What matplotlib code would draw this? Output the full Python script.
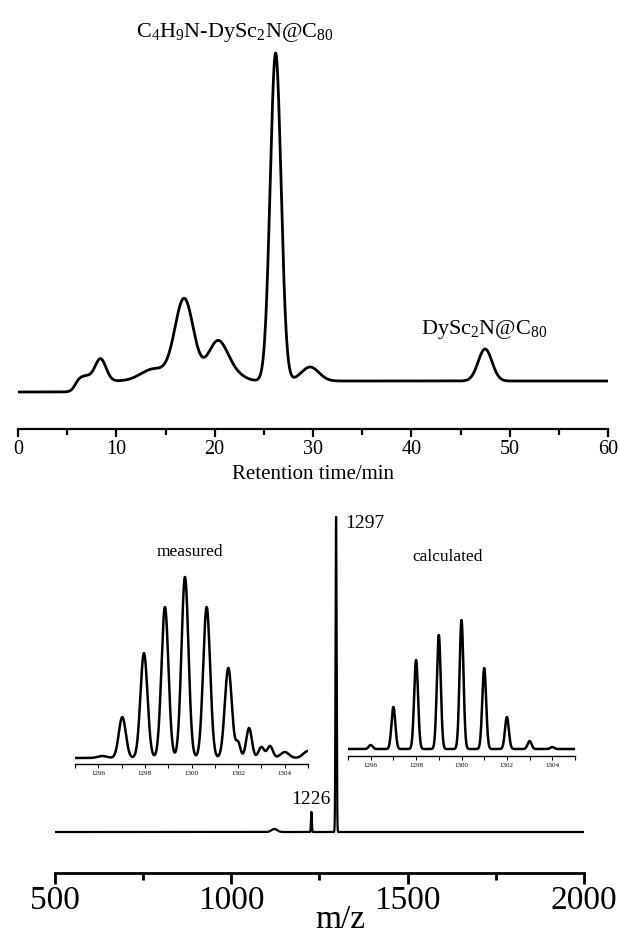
import numpy as np
import matplotlib.pyplot as plt
from matplotlib.ticker import MultipleLocator

plt.rcParams['font.family'] = ['Liberation Serif', 'DejaVu Serif']
plt.rcParams['mathtext.default'] = 'regular'

# HPLC chromatogram: peak centres (min), heights and widths (a.u.)
hplc_times = [6.8, 8.4, 13.8, 16.9, 20.3, 22.0, 26.2, 29.7, 47.5]
hplc_heights = [5, 22, 12, 82, 39, 6, 328, 14, 32]
hplc_widths = [0.7, 0.55, 1.3, 0.95, 1.0, 1.0, 0.55, 0.9, 0.7]
hplc_step_time = 5.8
hplc_step_level = 11

# MALDI-TOF spectrum: peak m/z, heights, widths
ms_mz = [1122, 1227, 1297]
ms_heights = [3, 20, 315]
ms_widths = [8, 1.2, 1.5]

# isotope pattern insets
meas_mz = [1296.17, 1297.03, 1297.96, 1298.86, 1299.72, 1300.65, 1301.58,
           1302.0, 1302.47, 1303.0, 1303.37, 1304.0, 1305.0]
meas_int = [2, 41, 105, 151, 181, 151, 90, 15, 30, 11, 12, 6, 7]
meas_w = [0.2, 0.15, 0.15, 0.15, 0.15, 0.15, 0.15, 0.1, 0.12, 0.12, 0.12, 0.18, 0.2]

calc_mz = [1296, 1297, 1298, 1299, 1300, 1301, 1302, 1303, 1304]
calc_int = [4, 42, 89, 114, 129, 81, 32, 8, 2]
calc_w = 0.085


def peaks(x, centres, heights, widths):
    y = np.zeros_like(x)
    widths = np.broadcast_to(widths, len(centres))
    for c, h, w in zip(centres, heights, widths):
        y += h * np.exp(-(x - c) ** 2 / (2 * w ** 2))
    return y


W, H = 619, 938
fig = plt.figure(figsize=(W / 100, H / 100), dpi=100)

def style(ax, lw=1.6):
    for s in ['top', 'left', 'right']:
        ax.spines[s].set_visible(False)
    ax.spines['bottom'].set_linewidth(lw)
    ax.set_yticks([])
    ax.patch.set_alpha(0)

# ---- top: chromatogram
ax1 = fig.add_axes([18 / W, 1 - 429 / H, 590 / W, 389 / H])
t = np.linspace(0, 60, 3000)
sig = hplc_step_level * 0.5 * (1 + np.tanh((t - hplc_step_time) / 0.4))
sig += peaks(t, hplc_times, hplc_heights, hplc_widths)
ax1.plot(t, sig, color='black', lw=2)
ax1.set_xlim(0, 60)
ax1.set_ylim(-37, 352)
style(ax1)
ax1.xaxis.set_major_locator(MultipleLocator(10))
ax1.xaxis.set_minor_locator(MultipleLocator(5))
ax1.tick_params(axis='x', which='major', direction='out', length=6, width=1.6,
                labelsize=14.5, pad=2)
ax1.tick_params(axis='x', which='minor', direction='out', length=4, width=1.6)
ax1.set_xlabel('Retention time/min', fontsize=15, labelpad=4)
ax1.text(22.1, 360, r'C$_4$H$_9$N-DySc$_2$N@C$_{80}$', fontsize=16,
         ha='center', va='center')
ax1.text(47.4, 63, r'DySc$_2$N@C$_{80}$', fontsize=16, ha='center', va='center')

# ---- bottom: mass spectrum
ax2 = fig.add_axes([55 / W, 1 - 873 / H, 529 / W, 383 / H])
mz = np.arange(500, 2000.01, 0.25)
ax2.plot(mz, peaks(mz, ms_mz, ms_heights, ms_widths), color='black', lw=1.6)
ax2.set_xlim(500, 2000)
ax2.set_ylim(-41, 342)
style(ax2, lw=2)
ax2.xaxis.set_major_locator(MultipleLocator(500))
ax2.xaxis.set_minor_locator(MultipleLocator(250))
ax2.tick_params(axis='x', which='major', direction='out', length=8, width=2,
                labelsize=24, pad=1)
ax2.tick_params(axis='x', which='minor', direction='out', length=5, width=2)
ax2.text(1322, 309, '1297', fontsize=14, ha='left', va='center')
ax2.text(1226, 32, '1226', fontsize=14, ha='center', va='center')
fig.text(340 / W, 1 - 920 / H, 'm/z', fontsize=24, ha='center', va='center')

# ---- insets
def inset(left, right, base_px, x, y, label, label_xy):
    ax = fig.add_axes([left / W, 1 - base_px / H, (right - left) / W, 204 / H])
    ax.plot(x, y, color='black', lw=1.8)
    ax.set_xlim(1295, 1305)
    ax.set_ylim(-6, 198)
    style(ax, lw=1)
    ax.xaxis.set_major_locator(MultipleLocator(2))
    ax.xaxis.set_minor_locator(MultipleLocator(1))
    ax.tick_params(axis='x', which='both', direction='out', length=3, width=0.8,
                   labelsize=5, pad=2)
    fig.text(label_xy[0] / W, 1 - label_xy[1] / H, label, fontsize=12.5,
             ha='center', va='center')
    return ax

xi = np.linspace(1295, 1305, 1500)
inset(75, 308, 764, xi, peaks(xi, meas_mz, meas_int, meas_w), 'measured', (190, 552))
inset(348, 575, 756, xi, peaks(xi, calc_mz, calc_int, calc_w) + 1, 'calculated', (448, 557))

fig.savefig('out.png', dpi=100)
